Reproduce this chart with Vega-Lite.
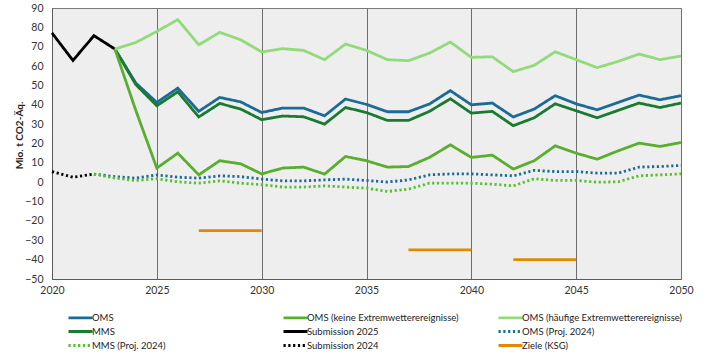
{
  "$schema": "https://vega.github.io/schema/vega-lite/v6.json",
  "autosize": {"type": "none"},
  "padding": {"left": 52, "top": 8, "right": 26, "bottom": 75},
  "width": 629,
  "height": 271,
  "background": "white",
  "config": {
    "font": "Lato",
    "view": {"fill": "#eeeeee", "stroke": "#7a7a7a", "strokeWidth": 1},
    "axis": {"gridColor": "#6e6e6e", "gridWidth": 1, "gridOpacity": 1, "domainColor": "#5a5a5a", "labelColor": "#333333", "labelFont": "Lato", "labelFontSize": 10.5, "ticks": false, "labelOverlap": false}
  },
  "resolve": {"axis": {"y": "independent"}},
  "datasets": {
    "lines": [
      {"series": "Submission 2025", "year": 2020, "value": 77.1},
      {"series": "Submission 2025", "year": 2021, "value": 62.9},
      {"series": "Submission 2025", "year": 2022, "value": 75.7},
      {"series": "Submission 2025", "year": 2023, "value": 68.8},
      {"series": "Submission 2024", "year": 2020, "value": 5.5},
      {"series": "Submission 2024", "year": 2021, "value": 2.6},
      {"series": "Submission 2024", "year": 2022, "value": 4.2},
      {"series": "OMS", "year": 2023, "value": 68.8},
      {"series": "OMS", "year": 2024, "value": 51.2},
      {"series": "OMS", "year": 2025, "value": 41.2},
      {"series": "OMS", "year": 2026, "value": 48.6},
      {"series": "OMS", "year": 2027, "value": 36.6},
      {"series": "OMS", "year": 2028, "value": 43.8},
      {"series": "OMS", "year": 2029, "value": 41.5},
      {"series": "OMS", "year": 2030, "value": 36.0},
      {"series": "OMS", "year": 2031, "value": 38.3},
      {"series": "OMS", "year": 2032, "value": 38.3},
      {"series": "OMS", "year": 2033, "value": 34.3},
      {"series": "OMS", "year": 2034, "value": 43.0},
      {"series": "OMS", "year": 2035, "value": 40.2},
      {"series": "OMS", "year": 2036, "value": 36.4},
      {"series": "OMS", "year": 2037, "value": 36.4},
      {"series": "OMS", "year": 2038, "value": 40.4},
      {"series": "OMS", "year": 2039, "value": 47.3},
      {"series": "OMS", "year": 2040, "value": 40.0},
      {"series": "OMS", "year": 2041, "value": 40.9},
      {"series": "OMS", "year": 2042, "value": 33.7},
      {"series": "OMS", "year": 2043, "value": 37.8},
      {"series": "OMS", "year": 2044, "value": 44.7},
      {"series": "OMS", "year": 2045, "value": 40.5},
      {"series": "OMS", "year": 2046, "value": 37.4},
      {"series": "OMS", "year": 2047, "value": 41.2},
      {"series": "OMS", "year": 2048, "value": 45.0},
      {"series": "OMS", "year": 2049, "value": 42.6},
      {"series": "OMS", "year": 2050, "value": 44.7},
      {"series": "MMS", "year": 2023, "value": 68.8},
      {"series": "MMS", "year": 2024, "value": 50.4},
      {"series": "MMS", "year": 2025, "value": 39.5},
      {"series": "MMS", "year": 2026, "value": 46.7},
      {"series": "MMS", "year": 2027, "value": 33.7},
      {"series": "MMS", "year": 2028, "value": 40.7},
      {"series": "MMS", "year": 2029, "value": 37.8},
      {"series": "MMS", "year": 2030, "value": 32.3},
      {"series": "MMS", "year": 2031, "value": 34.2},
      {"series": "MMS", "year": 2032, "value": 33.8},
      {"series": "MMS", "year": 2033, "value": 30.0},
      {"series": "MMS", "year": 2034, "value": 38.6},
      {"series": "MMS", "year": 2035, "value": 36.0},
      {"series": "MMS", "year": 2036, "value": 31.9},
      {"series": "MMS", "year": 2037, "value": 31.9},
      {"series": "MMS", "year": 2038, "value": 36.6},
      {"series": "MMS", "year": 2039, "value": 43.1},
      {"series": "MMS", "year": 2040, "value": 35.7},
      {"series": "MMS", "year": 2041, "value": 36.6},
      {"series": "MMS", "year": 2042, "value": 29.2},
      {"series": "MMS", "year": 2043, "value": 33.3},
      {"series": "MMS", "year": 2044, "value": 40.5},
      {"series": "MMS", "year": 2045, "value": 36.9},
      {"series": "MMS", "year": 2046, "value": 33.3},
      {"series": "MMS", "year": 2047, "value": 37.1},
      {"series": "MMS", "year": 2048, "value": 40.9},
      {"series": "MMS", "year": 2049, "value": 38.6},
      {"series": "MMS", "year": 2050, "value": 40.9},
      {"series": "OMS (keine Extremwetterereignisse)", "year": 2023, "value": 68.8},
      {"series": "OMS (keine Extremwetterereignisse)", "year": 2024, "value": 37.0},
      {"series": "OMS (keine Extremwetterereignisse)", "year": 2025, "value": 7.3},
      {"series": "OMS (keine Extremwetterereignisse)", "year": 2026, "value": 15.0},
      {"series": "OMS (keine Extremwetterereignisse)", "year": 2027, "value": 3.8},
      {"series": "OMS (keine Extremwetterereignisse)", "year": 2028, "value": 11.1},
      {"series": "OMS (keine Extremwetterereignisse)", "year": 2029, "value": 9.5},
      {"series": "OMS (keine Extremwetterereignisse)", "year": 2030, "value": 4.3},
      {"series": "OMS (keine Extremwetterereignisse)", "year": 2031, "value": 7.3},
      {"series": "OMS (keine Extremwetterereignisse)", "year": 2032, "value": 7.8},
      {"series": "OMS (keine Extremwetterereignisse)", "year": 2033, "value": 4.2},
      {"series": "OMS (keine Extremwetterereignisse)", "year": 2034, "value": 13.3},
      {"series": "OMS (keine Extremwetterereignisse)", "year": 2035, "value": 11.1},
      {"series": "OMS (keine Extremwetterereignisse)", "year": 2036, "value": 7.8},
      {"series": "OMS (keine Extremwetterereignisse)", "year": 2037, "value": 8.1},
      {"series": "OMS (keine Extremwetterereignisse)", "year": 2038, "value": 12.8},
      {"series": "OMS (keine Extremwetterereignisse)", "year": 2039, "value": 19.3},
      {"series": "OMS (keine Extremwetterereignisse)", "year": 2040, "value": 12.8},
      {"series": "OMS (keine Extremwetterereignisse)", "year": 2041, "value": 14.0},
      {"series": "OMS (keine Extremwetterereignisse)", "year": 2042, "value": 6.8},
      {"series": "OMS (keine Extremwetterereignisse)", "year": 2043, "value": 11.1},
      {"series": "OMS (keine Extremwetterereignisse)", "year": 2044, "value": 18.8},
      {"series": "OMS (keine Extremwetterereignisse)", "year": 2045, "value": 15.0},
      {"series": "OMS (keine Extremwetterereignisse)", "year": 2046, "value": 11.9},
      {"series": "OMS (keine Extremwetterereignisse)", "year": 2047, "value": 16.2},
      {"series": "OMS (keine Extremwetterereignisse)", "year": 2048, "value": 20.2},
      {"series": "OMS (keine Extremwetterereignisse)", "year": 2049, "value": 18.5},
      {"series": "OMS (keine Extremwetterereignisse)", "year": 2050, "value": 20.5},
      {"series": "OMS (häufige Extremwetterereignisse)", "year": 2023, "value": 68.8},
      {"series": "OMS (häufige Extremwetterereignisse)", "year": 2024, "value": 72.2},
      {"series": "OMS (häufige Extremwetterereignisse)", "year": 2025, "value": 77.9},
      {"series": "OMS (häufige Extremwetterereignisse)", "year": 2026, "value": 84.0},
      {"series": "OMS (häufige Extremwetterereignisse)", "year": 2027, "value": 71.0},
      {"series": "OMS (häufige Extremwetterereignisse)", "year": 2028, "value": 77.4},
      {"series": "OMS (häufige Extremwetterereignisse)", "year": 2029, "value": 73.6},
      {"series": "OMS (häufige Extremwetterereignisse)", "year": 2030, "value": 67.3},
      {"series": "OMS (häufige Extremwetterereignisse)", "year": 2031, "value": 69.0},
      {"series": "OMS (häufige Extremwetterereignisse)", "year": 2032, "value": 68.1},
      {"series": "OMS (häufige Extremwetterereignisse)", "year": 2033, "value": 63.3},
      {"series": "OMS (häufige Extremwetterereignisse)", "year": 2034, "value": 71.4},
      {"series": "OMS (häufige Extremwetterereignisse)", "year": 2035, "value": 68.1},
      {"series": "OMS (häufige Extremwetterereignisse)", "year": 2036, "value": 63.3},
      {"series": "OMS (häufige Extremwetterereignisse)", "year": 2037, "value": 62.8},
      {"series": "OMS (häufige Extremwetterereignisse)", "year": 2038, "value": 66.7},
      {"series": "OMS (häufige Extremwetterereignisse)", "year": 2039, "value": 72.4},
      {"series": "OMS (häufige Extremwetterereignisse)", "year": 2040, "value": 64.5},
      {"series": "OMS (häufige Extremwetterereignisse)", "year": 2041, "value": 64.8},
      {"series": "OMS (häufige Extremwetterereignisse)", "year": 2042, "value": 57.1},
      {"series": "OMS (häufige Extremwetterereignisse)", "year": 2043, "value": 60.4},
      {"series": "OMS (häufige Extremwetterereignisse)", "year": 2044, "value": 67.4},
      {"series": "OMS (häufige Extremwetterereignisse)", "year": 2045, "value": 63.3},
      {"series": "OMS (häufige Extremwetterereignisse)", "year": 2046, "value": 59.2},
      {"series": "OMS (häufige Extremwetterereignisse)", "year": 2047, "value": 62.4},
      {"series": "OMS (häufige Extremwetterereignisse)", "year": 2048, "value": 66.2},
      {"series": "OMS (häufige Extremwetterereignisse)", "year": 2049, "value": 63.3},
      {"series": "OMS (häufige Extremwetterereignisse)", "year": 2050, "value": 65.2},
      {"series": "OMS  (Proj. 2024)", "year": 2022, "value": 4.2},
      {"series": "OMS  (Proj. 2024)", "year": 2023, "value": 2.9},
      {"series": "OMS  (Proj. 2024)", "year": 2024, "value": 2.1},
      {"series": "OMS  (Proj. 2024)", "year": 2025, "value": 3.8},
      {"series": "OMS  (Proj. 2024)", "year": 2026, "value": 2.6},
      {"series": "OMS  (Proj. 2024)", "year": 2027, "value": 2.1},
      {"series": "OMS  (Proj. 2024)", "year": 2028, "value": 3.3},
      {"series": "OMS  (Proj. 2024)", "year": 2029, "value": 2.9},
      {"series": "OMS  (Proj. 2024)", "year": 2030, "value": 1.6},
      {"series": "OMS  (Proj. 2024)", "year": 2031, "value": 0.7},
      {"series": "OMS  (Proj. 2024)", "year": 2032, "value": 0.7},
      {"series": "OMS  (Proj. 2024)", "year": 2033, "value": 1.2},
      {"series": "OMS  (Proj. 2024)", "year": 2034, "value": 1.6},
      {"series": "OMS  (Proj. 2024)", "year": 2035, "value": 0.9},
      {"series": "OMS  (Proj. 2024)", "year": 2036, "value": 0.1},
      {"series": "OMS  (Proj. 2024)", "year": 2037, "value": 1.2},
      {"series": "OMS  (Proj. 2024)", "year": 2038, "value": 3.8},
      {"series": "OMS  (Proj. 2024)", "year": 2039, "value": 4.3},
      {"series": "OMS  (Proj. 2024)", "year": 2040, "value": 4.3},
      {"series": "OMS  (Proj. 2024)", "year": 2041, "value": 3.8},
      {"series": "OMS  (Proj. 2024)", "year": 2042, "value": 3.3},
      {"series": "OMS  (Proj. 2024)", "year": 2043, "value": 6.1},
      {"series": "OMS  (Proj. 2024)", "year": 2044, "value": 5.5},
      {"series": "OMS  (Proj. 2024)", "year": 2045, "value": 5.5},
      {"series": "OMS  (Proj. 2024)", "year": 2046, "value": 4.7},
      {"series": "OMS  (Proj. 2024)", "year": 2047, "value": 4.7},
      {"series": "OMS  (Proj. 2024)", "year": 2048, "value": 7.8},
      {"series": "OMS  (Proj. 2024)", "year": 2049, "value": 8.1},
      {"series": "OMS  (Proj. 2024)", "year": 2050, "value": 8.7},
      {"series": "MMS (Proj. 2024)", "year": 2022, "value": 4.2},
      {"series": "MMS (Proj. 2024)", "year": 2023, "value": 2.1},
      {"series": "MMS (Proj. 2024)", "year": 2024, "value": 0.9},
      {"series": "MMS (Proj. 2024)", "year": 2025, "value": 1.8},
      {"series": "MMS (Proj. 2024)", "year": 2026, "value": 0.2},
      {"series": "MMS (Proj. 2024)", "year": 2027, "value": -0.5},
      {"series": "MMS (Proj. 2024)", "year": 2028, "value": 0.7},
      {"series": "MMS (Proj. 2024)", "year": 2029, "value": -0.5},
      {"series": "MMS (Proj. 2024)", "year": 2030, "value": -1.3},
      {"series": "MMS (Proj. 2024)", "year": 2031, "value": -2.5},
      {"series": "MMS (Proj. 2024)", "year": 2032, "value": -2.5},
      {"series": "MMS (Proj. 2024)", "year": 2033, "value": -1.9},
      {"series": "MMS (Proj. 2024)", "year": 2034, "value": -2.5},
      {"series": "MMS (Proj. 2024)", "year": 2035, "value": -3.1},
      {"series": "MMS (Proj. 2024)", "year": 2036, "value": -4.8},
      {"series": "MMS (Proj. 2024)", "year": 2037, "value": -3.6},
      {"series": "MMS (Proj. 2024)", "year": 2038, "value": -0.5},
      {"series": "MMS (Proj. 2024)", "year": 2039, "value": -0.5},
      {"series": "MMS (Proj. 2024)", "year": 2040, "value": -0.5},
      {"series": "MMS (Proj. 2024)", "year": 2041, "value": -1.0},
      {"series": "MMS (Proj. 2024)", "year": 2042, "value": -1.9},
      {"series": "MMS (Proj. 2024)", "year": 2043, "value": 1.8},
      {"series": "MMS (Proj. 2024)", "year": 2044, "value": 0.9},
      {"series": "MMS (Proj. 2024)", "year": 2045, "value": 0.9},
      {"series": "MMS (Proj. 2024)", "year": 2046, "value": 0.0},
      {"series": "MMS (Proj. 2024)", "year": 2047, "value": 0.2},
      {"series": "MMS (Proj. 2024)", "year": 2048, "value": 3.3},
      {"series": "MMS (Proj. 2024)", "year": 2049, "value": 3.8},
      {"series": "MMS (Proj. 2024)", "year": 2050, "value": 4.3},
      {"series": "Ziele (KSG)", "seg": "2030", "year": 2027, "value": -25},
      {"series": "Ziele (KSG)", "seg": "2030", "year": 2030, "value": -25},
      {"series": "Ziele (KSG)", "seg": "2040", "year": 2037, "value": -35},
      {"series": "Ziele (KSG)", "seg": "2040", "year": 2040, "value": -35},
      {"series": "Ziele (KSG)", "seg": "2045", "year": 2042, "value": -40},
      {"series": "Ziele (KSG)", "seg": "2045", "year": 2045, "value": -40}
    ]
  },
  "layer": [
    {"mark": {"type": "rule", "color": "#6e6e6e", "strokeWidth": 1}, "encoding": {"y": {"datum": -40, "type": "quantitative", "axis": null}}},
    {"mark": {"type": "rule", "color": "#6e6e6e", "strokeWidth": 1}, "encoding": {"y": {"datum": -30, "type": "quantitative", "axis": null}}},
    {"mark": {"type": "rule", "color": "#6e6e6e", "strokeWidth": 1}, "encoding": {"y": {"datum": -20, "type": "quantitative", "axis": null}}},
    {"mark": {"type": "rule", "color": "#6e6e6e", "strokeWidth": 1}, "encoding": {"y": {"datum": -10, "type": "quantitative", "axis": null}}},
    {"mark": {"type": "rule", "color": "#6e6e6e", "strokeWidth": 1}, "encoding": {"y": {"datum": 10, "type": "quantitative", "axis": null}}},
    {"mark": {"type": "rule", "color": "#6e6e6e", "strokeWidth": 1}, "encoding": {"y": {"datum": 20, "type": "quantitative", "axis": null}}},
    {"mark": {"type": "rule", "color": "#6e6e6e", "strokeWidth": 1}, "encoding": {"y": {"datum": 30, "type": "quantitative", "axis": null}}},
    {"mark": {"type": "rule", "color": "#6e6e6e", "strokeWidth": 1}, "encoding": {"y": {"datum": 40, "type": "quantitative", "axis": null}}},
    {"mark": {"type": "rule", "color": "#6e6e6e", "strokeWidth": 1}, "encoding": {"y": {"datum": 50, "type": "quantitative", "axis": null}}},
    {"mark": {"type": "rule", "color": "#6e6e6e", "strokeWidth": 1}, "encoding": {"y": {"datum": 60, "type": "quantitative", "axis": null}}},
    {"mark": {"type": "rule", "color": "#6e6e6e", "strokeWidth": 1}, "encoding": {"y": {"datum": 70, "type": "quantitative", "axis": null}}},
    {"mark": {"type": "rule", "color": "#6e6e6e", "strokeWidth": 1}, "encoding": {"y": {"datum": 80, "type": "quantitative", "axis": null}}},
    {"mark": {"type": "rule", "color": "#6e6e6e", "strokeWidth": 1}, "encoding": {"y": {"datum": 90, "type": "quantitative", "axis": null}}},
    {"mark": {"type": "rule", "color": "#3d97d3", "strokeWidth": 1.3}, "encoding": {"y": {"datum": 0, "type": "quantitative", "axis": null}}},
    {
      "data": {"name": "lines"},
      "mark": {"type": "line", "strokeCap": "butt", "strokeJoin": "miter"},
      "encoding": {
        "x": {
          "field": "year", "type": "quantitative",
          "scale": {"domain": [2020, 2050], "nice": false, "zero": false},
          "axis": {"values": [2020, 2025, 2030, 2035, 2040, 2045, 2050], "format": "d", "title": null, "labelPadding": 6, "grid": true, "labelFlush": false}
        },
        "y": {
          "field": "value", "type": "quantitative",
          "scale": {"domain": [-50, 90], "nice": false, "zero": false},
          "axis": {"orient": "left", "values": [-50, -40, -30, -20, -10, 0, 10, 20, 30, 40, 50, 60, 70, 80, 90], "grid": false, "labelOverlap": false, "title": "Mio. t CO2-Äq.", "titleFont": "Lato", "titleFontWeight": "bold", "titleFontSize": 10, "titleColor": "#222222", "labelPadding": 9, "titlePadding": 0, "titleY": 127}
        },
        "detail": {"field": "seg"},
        "color": {
          "field": "series", "type": "nominal", "title": null,
          "scale": {
            "domain": ["OMS", "MMS", "MMS (Proj. 2024)", "OMS (keine Extremwetterereignisse)", "Submission 2025", "Submission 2024", "OMS (häufige Extremwetterereignisse)", "OMS  (Proj. 2024)", "Ziele (KSG)"],
            "range": ["#1b6b95", "#1a7a30", "#55c030", "#5aae2e", "#000000", "#000000", "#93db7a", "#1b6b95", "#e08a00"]
          },
          "legend": {
            "orient": "none", "legendX": 15, "legendY": 302, "columns": 3, "gridAlign": "all",
            "symbolType": "M-1,0H3", "symbolSize": 144, "labelFont": "Lato", "labelFontSize": 9.5, "labelColor": "#222222",
            "columnPadding": 24, "rowPadding": 0, "padding": 0, "labelOffset": 10, "labelLimit": 300
          }
        },
        "strokeDash": {
          "field": "series", "type": "nominal", "title": null,
          "scale": {
            "domain": ["OMS", "MMS", "MMS (Proj. 2024)", "OMS (keine Extremwetterereignisse)", "Submission 2025", "Submission 2024", "OMS (häufige Extremwetterereignisse)", "OMS  (Proj. 2024)", "Ziele (KSG)"],
            "range": [[1, 0], [1, 0], [2.2, 2.6], [1, 0], [1, 0], [2.2, 2.6], [1, 0], [2.2, 2.6], [1, 0]]
          }
        },
        "strokeWidth": {
          "field": "series", "type": "nominal", "title": null,
          "scale": {
            "domain": ["OMS", "MMS", "MMS (Proj. 2024)", "OMS (keine Extremwetterereignisse)", "Submission 2025", "Submission 2024", "OMS (häufige Extremwetterereignisse)", "OMS  (Proj. 2024)", "Ziele (KSG)"],
            "range": [2.8, 2.8, 2.2, 2.6, 2.8, 2.4, 2.8, 2.4, 4.5]
          }
        }
      }
    },
    {
      "mark": {"type": "rule", "color": "#a3a3a3", "strokeWidth": 1.5},
      "encoding": {
        "x": {"datum": 2017.77, "type": "quantitative",
          "axis": {"values": [2020, 2025, 2030, 2035, 2040, 2045, 2050], "format": "d", "title": null, "labelPadding": 6, "grid": true, "labelFlush": false}},
        "x2": {"datum": 2050.67},
        "y": {"datum": -62.2, "type": "quantitative", "axis": null}
      }
    }
  ]
}
